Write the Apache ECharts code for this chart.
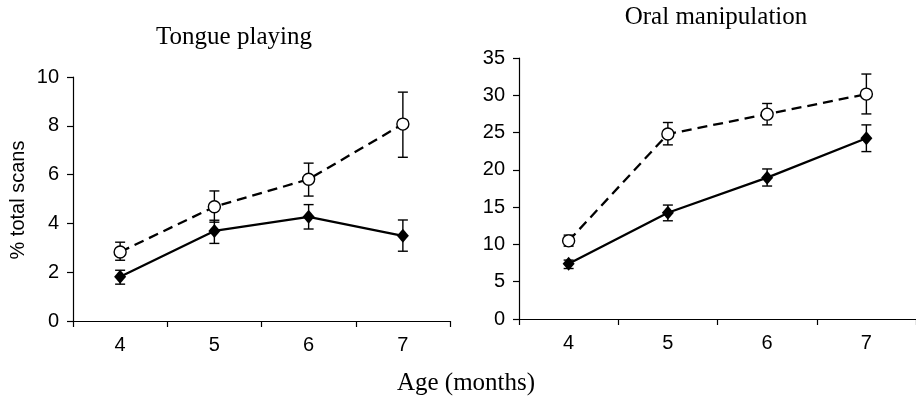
<!DOCTYPE html>
<html>
<head>
<meta charset="utf-8">
<script src="https://cdn.jsdelivr.net/npm/echarts@6/dist/echarts.min.js"></script>
<style>
  html, body { margin: 0; padding: 0; background: #fff; }
  #chart { width: 916px; height: 410px; }
</style>
</head>
<body>
<div id="chart"></div>
<script>
// ages on the x axis
var ages = ['4', '5', '6', '7'];

// tongue playing (left panel)
var tongueOpen = [2.83, 4.68, 5.81, 8.07];
var tongueOpenLow = [2.49, 4.05, 5.12, 6.71];
var tongueOpenHigh = [3.23, 5.33, 6.47, 9.38];
var tongueFilled = [1.81, 3.69, 4.27, 3.49];
var tongueFilledLow = [1.51, 3.18, 3.77, 2.86];
var tongueFilledHigh = [2.08, 4.13, 4.77, 4.14];

// oral manipulation (right panel)
var oralOpen = [10.48, 24.8, 27.47, 30.16];
var oralOpenLow = [9.77, 23.35, 26.03, 27.5];
var oralOpenHigh = [11.25, 26.35, 28.9, 32.85];
var oralFilled = [7.4, 14.25, 18.95, 24.24];
var oralFilledLow = [6.77, 13.17, 17.83, 22.45];
var oralFilledHigh = [7.9, 15.28, 20.12, 26.03];

var chart = echarts.init(document.getElementById('chart'));

// 误差线: [类别序号, 下限, 上限]
function errData(low, high) {
  return low.map(function (v, i) { return [i, v, high[i]]; });
}

function renderError(params, api) {
  var x = api.value(0);
  var lo = api.coord([x, api.value(1)]);
  var hi = api.coord([x, api.value(2)]);
  var w = 5;
  var st = { stroke: '#000', lineWidth: 1.4 };
  return {
    type: 'group',
    children: [
      { type: 'line', shape: { x1: hi[0], y1: hi[1], x2: lo[0], y2: lo[1] }, style: st },
      { type: 'line', shape: { x1: hi[0] - w, y1: hi[1], x2: hi[0] + w, y2: hi[1] }, style: st },
      { type: 'line', shape: { x1: lo[0] - w, y1: lo[1], x2: lo[0] + w, y2: lo[1] }, style: st }
    ]
  };
}

function errSeries(idx, low, high) {
  return {
    type: 'custom',
    xAxisIndex: idx,
    yAxisIndex: idx,
    renderItem: renderError,
    data: errData(low, high),
    z: 1,
    silent: true
  };
}

function openSeries(idx, data) {
  return {
    type: 'line',
    xAxisIndex: idx,
    yAxisIndex: idx,
    data: data,
    symbol: 'circle',
    symbolSize: 12,
    itemStyle: { color: '#fff', borderColor: '#000', borderWidth: 1.4 },
    lineStyle: { color: '#000', width: 2.3, type: [10, 6] },
    z: 3,
    silent: true
  };
}

function filledSeries(idx, data) {
  return {
    type: 'line',
    xAxisIndex: idx,
    yAxisIndex: idx,
    data: data,
    symbol: 'diamond',
    symbolSize: [12, 14],
    itemStyle: { color: '#000' },
    lineStyle: { color: '#000', width: 2.3 },
    z: 3,
    silent: true
  };
}

var sans = 'Liberation Sans, Arial, sans-serif';
var serif = 'Liberation Serif, Times New Roman, serif';

function xAxisOf(idx) {
  return {
    type: 'category',
    gridIndex: idx,
    data: ages,
    boundaryGap: true,
    axisLine: { lineStyle: { color: '#000', width: 1.2 } },
    axisTick: { show: true, length: 6, alignWithLabel: false, lineStyle: { color: '#000', width: 1.2 } },
    axisLabel: { color: '#000', fontFamily: sans, fontSize: 20, margin: 14 }
  };
}

function yAxisOf(idx, max, step) {
  return {
    type: 'value',
    gridIndex: idx,
    min: 0,
    max: max,
    interval: step,
    splitLine: { show: false },
    axisLine: { show: true, lineStyle: { color: '#000', width: 1.2 } },
    axisTick: { show: true, length: 6, lineStyle: { color: '#000', width: 1.2 } },
    axisLabel: { color: '#000', fontFamily: sans, fontSize: 20, margin: 14 }
  };
}

var titleFont = { fontFamily: serif, fontSize: 25, fontWeight: 'normal', color: '#000' };

var option = {
  animation: false,
  backgroundColor: '#fff',
  title: [
    { text: 'Tongue playing', left: 229, top: 20, textAlign: 'center', textStyle: titleFont },
    { text: 'Oral manipulation', left: 711, top: 0, textAlign: 'center', textStyle: titleFont },
    { text: 'Age (months)', left: 461, top: 366, textAlign: 'center', textStyle: titleFont }
  ],
  graphic: [
    {
      type: 'text',
      x: 18, y: 200,
      rotation: Math.PI / 2,
      style: {
        text: '% total scans',
        font: '20px ' + sans,
        fill: '#000',
        align: 'center',
        verticalAlign: 'middle'
      }
    }
  ],
  grid: [
    { left: 73, top: 77, width: 377, height: 244 },
    { left: 519, top: 58, width: 399, height: 261 }
  ],
  xAxis: [xAxisOf(0), xAxisOf(1)],
  yAxis: [yAxisOf(0, 10, 2), yAxisOf(1, 35, 5)],
  series: [
    errSeries(0, tongueOpenLow, tongueOpenHigh),
    errSeries(0, tongueFilledLow, tongueFilledHigh),
    openSeries(0, tongueOpen),
    filledSeries(0, tongueFilled),
    errSeries(1, oralOpenLow, oralOpenHigh),
    errSeries(1, oralFilledLow, oralFilledHigh),
    openSeries(1, oralOpen),
    filledSeries(1, oralFilled)
  ]
};

chart.setOption(option);
window.onresize = chart.resize;
</script>
</body>
</html>
